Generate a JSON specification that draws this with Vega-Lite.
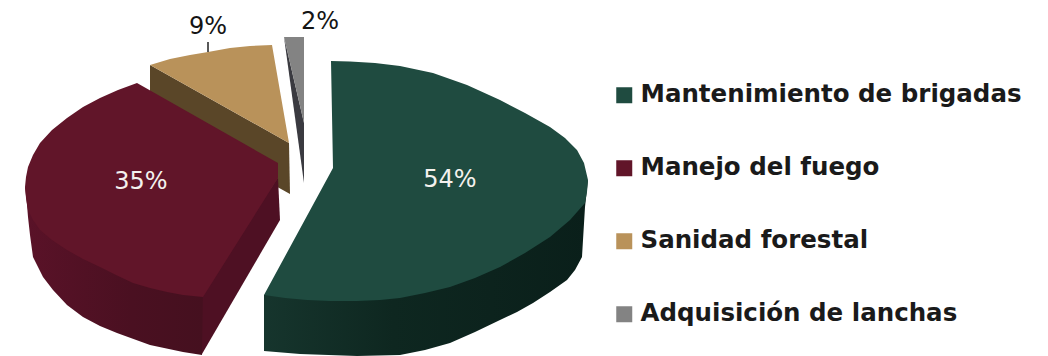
{
  "$schema": "https://vega.github.io/schema/vega-lite/v6.json",
  "width": 1048,
  "height": 356,
  "padding": 0,
  "autosize": {"type": "none"},
  "background": "#ffffff",
  "config": {"view": {"stroke": null}},
  "datasets": {
    "partidas": [
      {"rubro": "Mantenimiento de brigadas", "porcentaje": 0.54, "x": 450, "y": 180},
      {"rubro": "Manejo del fuego", "porcentaje": 0.35, "x": 141, "y": 182},
      {"rubro": "Sanidad forestal", "porcentaje": 0.09, "x": 208, "y": 27},
      {"rubro": "Adquisición de lanchas", "porcentaje": 0.02, "x": 320, "y": 22}
    ],
    "contorno": [
      {"rubro": "Adquisición de lanchas", "cara": "pared", "x": 284, "y": 37},
      {"rubro": "Adquisición de lanchas", "cara": "pared", "x": 304, "y": 123},
      {"rubro": "Adquisición de lanchas", "cara": "pared", "x": 304, "y": 183},
      {"rubro": "Sanidad forestal", "cara": "pared", "x": 150, "y": 65},
      {"rubro": "Sanidad forestal", "cara": "pared", "x": 289, "y": 143},
      {"rubro": "Sanidad forestal", "cara": "pared", "x": 290, "y": 194},
      {"rubro": "Sanidad forestal", "cara": "pared", "x": 150, "y": 116},
      {"rubro": "Manejo del fuego", "cara": "interior", "x": 278, "y": 178},
      {"rubro": "Manejo del fuego", "cara": "interior", "x": 280, "y": 220},
      {"rubro": "Manejo del fuego", "cara": "interior", "x": 202, "y": 354},
      {"rubro": "Manejo del fuego", "cara": "interior", "x": 198, "y": 354},
      {"rubro": "Manejo del fuego", "cara": "interior", "x": 198, "y": 290},
      {"rubro": "Manejo del fuego", "cara": "pared", "x": 25, "y": 187},
      {"rubro": "Manejo del fuego", "cara": "pared", "x": 27, "y": 205},
      {"rubro": "Manejo del fuego", "cara": "pared", "x": 28, "y": 217},
      {"rubro": "Manejo del fuego", "cara": "pared", "x": 30, "y": 235},
      {"rubro": "Manejo del fuego", "cara": "pared", "x": 33, "y": 257},
      {"rubro": "Manejo del fuego", "cara": "pared", "x": 43, "y": 277},
      {"rubro": "Manejo del fuego", "cara": "pared", "x": 53, "y": 290},
      {"rubro": "Manejo del fuego", "cara": "pared", "x": 67, "y": 305},
      {"rubro": "Manejo del fuego", "cara": "pared", "x": 83, "y": 317},
      {"rubro": "Manejo del fuego", "cara": "pared", "x": 100, "y": 326},
      {"rubro": "Manejo del fuego", "cara": "pared", "x": 117, "y": 333},
      {"rubro": "Manejo del fuego", "cara": "pared", "x": 150, "y": 345},
      {"rubro": "Manejo del fuego", "cara": "pared", "x": 183, "y": 352},
      {"rubro": "Manejo del fuego", "cara": "pared", "x": 202, "y": 355},
      {"rubro": "Manejo del fuego", "cara": "pared", "x": 203, "y": 290},
      {"rubro": "Manejo del fuego", "cara": "pared", "x": 100, "y": 250},
      {"rubro": "Mantenimiento de brigadas", "cara": "pared", "x": 588, "y": 180},
      {"rubro": "Mantenimiento de brigadas", "cara": "pared", "x": 585, "y": 207},
      {"rubro": "Mantenimiento de brigadas", "cara": "pared", "x": 583, "y": 240},
      {"rubro": "Mantenimiento de brigadas", "cara": "pared", "x": 582, "y": 257},
      {"rubro": "Mantenimiento de brigadas", "cara": "pared", "x": 575, "y": 270},
      {"rubro": "Mantenimiento de brigadas", "cara": "pared", "x": 567, "y": 280},
      {"rubro": "Mantenimiento de brigadas", "cara": "pared", "x": 550, "y": 292},
      {"rubro": "Mantenimiento de brigadas", "cara": "pared", "x": 533, "y": 303},
      {"rubro": "Mantenimiento de brigadas", "cara": "pared", "x": 517, "y": 312},
      {"rubro": "Mantenimiento de brigadas", "cara": "pared", "x": 500, "y": 320},
      {"rubro": "Mantenimiento de brigadas", "cara": "pared", "x": 475, "y": 332},
      {"rubro": "Mantenimiento de brigadas", "cara": "pared", "x": 450, "y": 343},
      {"rubro": "Mantenimiento de brigadas", "cara": "pared", "x": 425, "y": 350},
      {"rubro": "Mantenimiento de brigadas", "cara": "pared", "x": 400, "y": 355},
      {"rubro": "Mantenimiento de brigadas", "cara": "pared", "x": 357, "y": 356},
      {"rubro": "Mantenimiento de brigadas", "cara": "pared", "x": 300, "y": 354},
      {"rubro": "Mantenimiento de brigadas", "cara": "pared", "x": 264, "y": 351},
      {"rubro": "Mantenimiento de brigadas", "cara": "pared", "x": 264, "y": 295},
      {"rubro": "Mantenimiento de brigadas", "cara": "pared", "x": 400, "y": 280},
      {"rubro": "Adquisición de lanchas", "cara": "tapa", "x": 284, "y": 37},
      {"rubro": "Adquisición de lanchas", "cara": "tapa", "x": 304, "y": 37},
      {"rubro": "Adquisición de lanchas", "cara": "tapa", "x": 304, "y": 123},
      {"rubro": "Sanidad forestal", "cara": "tapa", "x": 150, "y": 65},
      {"rubro": "Sanidad forestal", "cara": "tapa", "x": 170, "y": 59},
      {"rubro": "Sanidad forestal", "cara": "tapa", "x": 190, "y": 55},
      {"rubro": "Sanidad forestal", "cara": "tapa", "x": 208, "y": 52},
      {"rubro": "Sanidad forestal", "cara": "tapa", "x": 230, "y": 48},
      {"rubro": "Sanidad forestal", "cara": "tapa", "x": 250, "y": 46},
      {"rubro": "Sanidad forestal", "cara": "tapa", "x": 272, "y": 45},
      {"rubro": "Sanidad forestal", "cara": "tapa", "x": 289, "y": 143},
      {"rubro": "Manejo del fuego", "cara": "tapa", "x": 137, "y": 83},
      {"rubro": "Manejo del fuego", "cara": "tapa", "x": 278, "y": 163},
      {"rubro": "Manejo del fuego", "cara": "tapa", "x": 278, "y": 178},
      {"rubro": "Manejo del fuego", "cara": "tapa", "x": 203, "y": 297},
      {"rubro": "Manejo del fuego", "cara": "tapa", "x": 183, "y": 295},
      {"rubro": "Manejo del fuego", "cara": "tapa", "x": 167, "y": 292},
      {"rubro": "Manejo del fuego", "cara": "tapa", "x": 150, "y": 288},
      {"rubro": "Manejo del fuego", "cara": "tapa", "x": 133, "y": 283},
      {"rubro": "Manejo del fuego", "cara": "tapa", "x": 116, "y": 275},
      {"rubro": "Manejo del fuego", "cara": "tapa", "x": 100, "y": 267},
      {"rubro": "Manejo del fuego", "cara": "tapa", "x": 83, "y": 259},
      {"rubro": "Manejo del fuego", "cara": "tapa", "x": 67, "y": 250},
      {"rubro": "Manejo del fuego", "cara": "tapa", "x": 52, "y": 240},
      {"rubro": "Manejo del fuego", "cara": "tapa", "x": 40, "y": 230},
      {"rubro": "Manejo del fuego", "cara": "tapa", "x": 33, "y": 220},
      {"rubro": "Manejo del fuego", "cara": "tapa", "x": 28, "y": 210},
      {"rubro": "Manejo del fuego", "cara": "tapa", "x": 26, "y": 198},
      {"rubro": "Manejo del fuego", "cara": "tapa", "x": 25, "y": 187},
      {"rubro": "Manejo del fuego", "cara": "tapa", "x": 26, "y": 177},
      {"rubro": "Manejo del fuego", "cara": "tapa", "x": 28, "y": 167},
      {"rubro": "Manejo del fuego", "cara": "tapa", "x": 33, "y": 155},
      {"rubro": "Manejo del fuego", "cara": "tapa", "x": 40, "y": 143},
      {"rubro": "Manejo del fuego", "cara": "tapa", "x": 52, "y": 130},
      {"rubro": "Manejo del fuego", "cara": "tapa", "x": 67, "y": 118},
      {"rubro": "Manejo del fuego", "cara": "tapa", "x": 83, "y": 107},
      {"rubro": "Manejo del fuego", "cara": "tapa", "x": 100, "y": 98},
      {"rubro": "Manejo del fuego", "cara": "tapa", "x": 118, "y": 90},
      {"rubro": "Mantenimiento de brigadas", "cara": "tapa", "x": 331, "y": 61},
      {"rubro": "Mantenimiento de brigadas", "cara": "tapa", "x": 350, "y": 61.5},
      {"rubro": "Mantenimiento de brigadas", "cara": "tapa", "x": 375, "y": 63},
      {"rubro": "Mantenimiento de brigadas", "cara": "tapa", "x": 400, "y": 66},
      {"rubro": "Mantenimiento de brigadas", "cara": "tapa", "x": 433, "y": 73},
      {"rubro": "Mantenimiento de brigadas", "cara": "tapa", "x": 467, "y": 85},
      {"rubro": "Mantenimiento de brigadas", "cara": "tapa", "x": 500, "y": 100},
      {"rubro": "Mantenimiento de brigadas", "cara": "tapa", "x": 525, "y": 113},
      {"rubro": "Mantenimiento de brigadas", "cara": "tapa", "x": 550, "y": 127},
      {"rubro": "Mantenimiento de brigadas", "cara": "tapa", "x": 565, "y": 138},
      {"rubro": "Mantenimiento de brigadas", "cara": "tapa", "x": 577, "y": 150},
      {"rubro": "Mantenimiento de brigadas", "cara": "tapa", "x": 584, "y": 163},
      {"rubro": "Mantenimiento de brigadas", "cara": "tapa", "x": 588, "y": 180},
      {"rubro": "Mantenimiento de brigadas", "cara": "tapa", "x": 587, "y": 192},
      {"rubro": "Mantenimiento de brigadas", "cara": "tapa", "x": 585, "y": 203},
      {"rubro": "Mantenimiento de brigadas", "cara": "tapa", "x": 570, "y": 220},
      {"rubro": "Mantenimiento de brigadas", "cara": "tapa", "x": 550, "y": 237},
      {"rubro": "Mantenimiento de brigadas", "cara": "tapa", "x": 525, "y": 253},
      {"rubro": "Mantenimiento de brigadas", "cara": "tapa", "x": 500, "y": 267},
      {"rubro": "Mantenimiento de brigadas", "cara": "tapa", "x": 475, "y": 278},
      {"rubro": "Mantenimiento de brigadas", "cara": "tapa", "x": 450, "y": 287},
      {"rubro": "Mantenimiento de brigadas", "cara": "tapa", "x": 425, "y": 293},
      {"rubro": "Mantenimiento de brigadas", "cara": "tapa", "x": 400, "y": 298},
      {"rubro": "Mantenimiento de brigadas", "cara": "tapa", "x": 380, "y": 300},
      {"rubro": "Mantenimiento de brigadas", "cara": "tapa", "x": 357, "y": 301},
      {"rubro": "Mantenimiento de brigadas", "cara": "tapa", "x": 330, "y": 301},
      {"rubro": "Mantenimiento de brigadas", "cara": "tapa", "x": 307, "y": 300},
      {"rubro": "Mantenimiento de brigadas", "cara": "tapa", "x": 285, "y": 298},
      {"rubro": "Mantenimiento de brigadas", "cara": "tapa", "x": 264, "y": 295},
      {"rubro": "Mantenimiento de brigadas", "cara": "tapa", "x": 333, "y": 168},
      {"rubro": "Sanidad forestal", "cara": "marca", "x": 208, "y": 42},
      {"rubro": "Sanidad forestal", "cara": "marca", "x": 208, "y": 52}
    ]
  },
  "data": {"name": "contorno"},
  "transform": [{"window": [{"op": "row_number", "as": "vertice"}]}],
  "encoding": {
    "x": {"field": "x", "type": "quantitative", "axis": null, "scale": {"domain": [0, 1048], "range": [0, 1048]}},
    "y": {"field": "y", "type": "quantitative", "axis": null, "scale": {"domain": [0, 356], "range": [0, 356]}}
  },
  "layer": [
    {
      "transform": [{"filter": "datum.cara === 'pared' && datum.rubro === 'Adquisición de lanchas'"}],
      "mark": {"type": "line", "fill": "#3a3a40", "stroke": null},
      "encoding": {"order": {"field": "vertice", "type": "quantitative"}}
    },
    {
      "transform": [{"filter": "datum.cara === 'pared' && datum.rubro === 'Sanidad forestal'"}],
      "mark": {"type": "line", "fill": "#5a4628", "stroke": null},
      "encoding": {"order": {"field": "vertice", "type": "quantitative"}}
    },
    {
      "transform": [{"filter": "datum.cara === 'interior'"}],
      "mark": {"type": "line", "fill": "#4e1023", "stroke": null},
      "encoding": {"order": {"field": "vertice", "type": "quantitative"}}
    },
    {
      "transform": [{"filter": "datum.cara === 'pared' && datum.rubro === 'Manejo del fuego'"}],
      "mark": {
        "type": "line",
        "stroke": null,
        "fill": {
          "gradient": "linear", "x1": 0, "x2": 1, "y1": 0, "y2": 0,
          "stops": [
            {"offset": 0, "color": "#5a1228"},
            {"offset": 0.6, "color": "#4a1021"},
            {"offset": 1, "color": "#45101f"}
          ]
        }
      },
      "encoding": {"order": {"field": "vertice", "type": "quantitative"}}
    },
    {
      "transform": [{"filter": "datum.cara === 'pared' && datum.rubro === 'Mantenimiento de brigadas'"}],
      "mark": {
        "type": "line",
        "stroke": null,
        "fill": {
          "gradient": "linear", "x1": 0, "x2": 1, "y1": 0, "y2": 0,
          "stops": [
            {"offset": 0, "color": "#16352d"},
            {"offset": 0.4, "color": "#0e2720"},
            {"offset": 1, "color": "#0a1f1a"}
          ]
        }
      },
      "encoding": {"order": {"field": "vertice", "type": "quantitative"}}
    },
    {
      "transform": [{"filter": "datum.cara === 'tapa'"}],
      "mark": {"type": "line", "stroke": null},
      "encoding": {
        "order": {"field": "vertice", "type": "quantitative"},
        "fill": {
          "field": "rubro",
          "type": "nominal",
          "scale": {
            "domain": ["Mantenimiento de brigadas", "Manejo del fuego", "Sanidad forestal", "Adquisición de lanchas"],
            "range": ["#1f4b40", "#611529", "#b9925a", "#838383"]
          },
          "legend": {
            "title": null,
            "orient": "none",
            "legendX": 612,
            "legendY": 83,
            "symbolType": "square",
            "symbolSize": 256,
            "symbolStrokeWidth": 0,
            "labelFont": "DejaVu Sans",
            "labelFontSize": 24.5,
            "labelFontWeight": "bold",
            "labelColor": "#1a1a1a",
            "labelLimit": 0,
            "labelOffset": 4,
            "rowPadding": 48
          }
        }
      }
    },
    {
      "transform": [{"filter": "datum.cara === 'marca'"}],
      "mark": {"type": "line", "stroke": "#222222", "strokeWidth": 1.5},
      "encoding": {"order": {"field": "vertice", "type": "quantitative"}}
    },
    {
      "data": {"name": "partidas"},
      "mark": {"type": "text", "font": "DejaVu Sans", "fontSize": 24, "align": "center", "baseline": "middle"},
      "encoding": {
        "text": {"field": "porcentaje", "type": "quantitative", "format": ".0%"},
        "color": {"condition": {"test": "datum.porcentaje > 0.2", "value": "#f4f1ee"}, "value": "#141414"}
      }
    }
  ]
}
